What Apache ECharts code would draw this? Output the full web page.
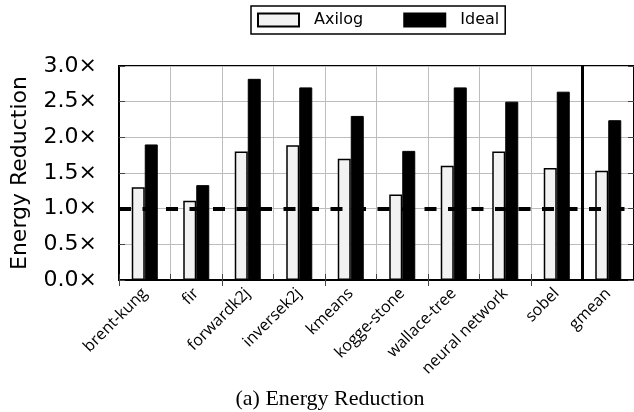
<!DOCTYPE html>
<html>
<head>
<meta charset="utf-8">
<script src="https://cdn.jsdelivr.net/npm/echarts@6/dist/echarts.min.js"></script>
<style>html,body{margin:0;padding:0;background:#fff;}#c{width:634px;height:412px;}</style>
</head>
<body>
<div id="c"></div>
<script>
const categories = ['brent-kung','fir','forwardk2j','inversek2j','kmeans','kogge-stone','wallace-tree','neural network','sobel','gmean'];
const axilog = [1.30, 1.11, 1.80, 1.89, 1.70, 1.20, 1.60, 1.80, 1.57, 1.53];
const ideal  = [1.90, 1.33, 2.82, 2.70, 2.30, 1.81, 2.70, 2.50, 2.64, 2.24];
const yTicks = [0, 0.5, 1.0, 1.5, 2.0, 2.5, 3.0];
const baseline = 1.0;
const separatorAt = 9; // boundary before gmean (in category units)

const chart = echarts.init(document.getElementById('c'), null, {renderer:'canvas'});
const sans = 'DejaVu Sans';
const option = {
  animation: false,
  backgroundColor: '#fff',
  title: {
    text: '(a) Energy Reduction',
    left: 325, top: 383, textAlign: 'center',
    textStyle: {fontFamily: 'Liberation Serif', fontSize: 22, fontWeight: 'normal', color: '#000'}
  },
  legend: {
    left: 251, top: 6,
    padding: [6, 6, 6, 6],
    itemGap: 40,
    itemWidth: 41, itemHeight: 13,
    borderColor: '#000', borderWidth: 1.5,
    icon: 'rect',
    textStyle: {fontFamily: sans, fontSize: 16, color: '#000', padding: [0, 0, 0, 10]},
    data: ['Axilog', 'Ideal']
  },
  grid: {left: 119, top: 66, right: -2, bottom: 132, show: true, borderColor: '#000', borderWidth: 2, backgroundColor: 'transparent'},
  xAxis: [
    {
      type: 'category', data: categories, position: 'bottom',
      axisLine: {show: true, lineStyle: {color: '#000', width: 2}},
      axisTick: {show: true, inside: true, length: 6, lineStyle: {color: '#444', width: 1}},
      splitLine: {show: true, lineStyle: {color: '#bdbdbd', width: 1}},
      axisLabel: {interval: 0, rotate: 45, margin: 11, fontFamily: 'Open Sans', fontSize: 16, color: '#000'}
    },
    {
      type: 'category', data: categories, position: 'top',
      axisLine: {show: true, lineStyle: {color: '#000', width: 2}},
      axisTick: {show: true, inside: true, length: 6, lineStyle: {color: '#444', width: 1}},
      axisLabel: {show: false}, splitLine: {show: false}
    },
    {type: 'value', min: 0, max: categories.length, show: false}
  ],
  yAxis: [
    {
      type: 'value', min: yTicks[0], max: yTicks[yTicks.length-1], interval: 0.5,
      name: 'Energy Reduction', nameLocation: 'middle', nameRotate: 90, nameGap: 88,
      nameTextStyle: {fontFamily: sans, fontSize: 22, color: '#000'},
      axisLine: {show: true, lineStyle: {color: '#000', width: 2}},
      axisTick: {show: true, inside: true, length: 6, lineStyle: {color: '#444', width: 1}},
      splitLine: {show: true, lineStyle: {color: '#bdbdbd', width: 1}},
      axisLabel: {margin: 22, fontFamily: sans, fontSize: 22, color: '#000', formatter: v => v.toFixed(1) + '\u00d7'}
    },
    {
      type: 'value', min: yTicks[0], max: yTicks[yTicks.length-1], interval: 0.5, position: 'right',
      axisLine: {show: true, lineStyle: {color: '#000', width: 2}},
      axisTick: {show: true, inside: true, length: 6, lineStyle: {color: '#444', width: 1}},
      axisLabel: {show: false}, splitLine: {show: false}
    }
  ],
  series: [
    {
      name: 'Axilog', type: 'bar', data: axilog, xAxisIndex: 0, yAxisIndex: 0,
      barWidth: 13, barGap: '0%',
      itemStyle: {color: '#f2f2f2', borderColor: '#000', borderWidth: 1.5}
    },
    {
      name: 'Ideal', type: 'bar', data: ideal, xAxisIndex: 0, yAxisIndex: 0,
      barWidth: 13, barGap: '0%',
      itemStyle: {color: '#000', borderColor: '#000', borderWidth: 1}
    },
    {
      name: 'sep', type: 'line', xAxisIndex: 2, yAxisIndex: 0,
      data: [[separatorAt, yTicks[0]], [separatorAt, yTicks[yTicks.length-1]]],
      symbol: 'none', lineStyle: {color: '#000', width: 3}, z: 5,
      markLine: {
        silent: true, symbol: 'none', label: {show: false},
        lineStyle: {color: '#000', width: 4, type: [12, 11.5]},
        data: [{yAxis: baseline}]
      }
    }
  ]
};
chart.setOption(option);
</script>
</body>
</html>
